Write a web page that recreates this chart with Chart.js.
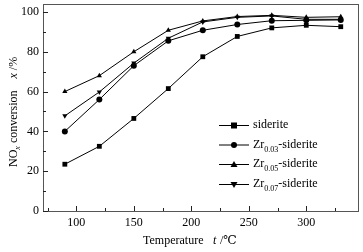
<!DOCTYPE html>
<html>
<head>
<meta charset="utf-8">
<script src="https://cdn.jsdelivr.net/npm/chart.js@4"></script>
<style>
  body { margin: 0; background: #fff; }
  #wrap { width: 363px; height: 252px; }
</style>
</head>
<body>
<div id="wrap"><canvas id="myChart" width="363" height="252"></canvas></div>
<script>
const temperaturas = [90, 120, 150, 180, 210, 240, 270, 300, 330];
const siderite = [23.5, 32.5, 46.5, 61.5, 77.5, 87.7, 92, 93.3, 92.6];
const zr003 = [40, 56, 73, 85.5, 90.8, 93.7, 95.6, 95.8, 96];
const zr005 = [60, 68, 80, 90.8, 95.5, 97.7, 98.3, 97.3, 97.6];
const zr007 = [47.8, 59.8, 74.3, 86.8, 95, 97.3, 98, 96.3, 96.3];
const nombres = [["siderite", ""], ["Zr", "0.03", "-siderite"], ["Zr", "0.05", "-siderite"], ["Zr", "0.07", "-siderite"]];
const marcas = ["rect", "circle", "triangle", "triangle"];
const rotaciones = [0, 0, 0, 180];
const ticksX = [100, 150, 200, 250, 300];
const ticksY = [0, 20, 40, 60, 80, 100];

const serif = "'Liberation Serif', 'DejaVu Serif', serif";

function puntos(arr) {
  return arr.map((v, i) => ({ x: temperaturas[i], y: v }));
}

function serie(label, datos, k) {
  return {
    label: label,
    data: puntos(datos),
    borderColor: "#000",
    backgroundColor: "#000",
    borderWidth: 1,
    pointStyle: marcas[k],
    rotation: rotaciones[k],
    pointRadius: marcas[k] == "rect" ? 3.4 : 3,
    pointBorderWidth: 0,
    tension: 0
  };
}

// ticks hacia adentro y bordes
const ejesPlugin = {
  id: "ejes",
  afterDraw(chart) {
    const ctx = chart.ctx;
    const a = chart.chartArea;
    const sx = chart.scales.x, sy = chart.scales.y;
    ctx.save();
    ctx.strokeStyle = "#555";
    ctx.lineWidth = 1;
    ctx.strokeRect(Math.round(a.left) + 0.5, Math.round(a.top) + 0.5, Math.round(a.right - a.left), Math.round(a.bottom - a.top));
    ctx.strokeStyle = "#222";
    ctx.beginPath();
    for (let t = 75; t <= 325; t += 25) {
      const px = Math.round(sx.getPixelForValue(t)) + 0.5;
      const len = (t % 50 == 0) ? 5 : 3;
      ctx.moveTo(px, a.bottom);
      ctx.lineTo(px, a.bottom - len);
    }
    for (let t = 0; t <= 100; t += 10) {
      const py = Math.round(sy.getPixelForValue(t)) + 0.5;
      const len = (t % 20 == 0) ? 5 : 3;
      ctx.moveTo(a.left, py);
      ctx.lineTo(a.left + len, py);
    }
    ctx.stroke();

    // etiquetas
    ctx.fillStyle = "#000";
    ctx.font = "12px " + serif;
    ctx.textAlign = "center";
    ctx.textBaseline = "middle";
    ticksX.forEach(t => ctx.fillText(String(t), sx.getPixelForValue(t), 223));
    ctx.textAlign = "right";
    ticksY.forEach(t => ctx.fillText(String(t), 39, sy.getPixelForValue(t)));

    // titulo eje x
    ctx.textAlign = "left";
    ctx.textBaseline = "alphabetic";
    ctx.font = "12px " + serif;
    ctx.fillText("Temperature", 143, 244);
    ctx.font = "italic 12px " + serif;
    ctx.fillText("t", 213, 244);
    ctx.font = "12px " + serif;
    ctx.fillText(" /\u2103", 217, 244);

    // titulo eje y
    ctx.save();
    ctx.translate(17, 167);
    ctx.rotate(-Math.PI / 2);
    let x = 0;
    ctx.font = "12px " + serif;
    ctx.fillText("NO", x, 0); x += ctx.measureText("NO").width;
    ctx.font = "italic 8px " + serif;
    ctx.fillText("x", x, 3); x += ctx.measureText("x").width + 1;
    ctx.font = "12px " + serif;
    ctx.fillText("conversion", x + 2, 0); x += ctx.measureText("conversion").width + 14;
    ctx.font = "italic 12px " + serif;
    ctx.fillText("x", x, 0); x += ctx.measureText("x").width;
    ctx.font = "12px " + serif;
    ctx.fillText(" /%", x, 0);
    ctx.restore();

    // leyenda
    const ys = [125, 144.5, 164, 184];
    ys.forEach((yy, k) => {
      ctx.strokeStyle = "#000";
      ctx.beginPath();
      ctx.moveTo(219, yy + 0.5);
      ctx.lineTo(249, yy + 0.5);
      ctx.stroke();
      dibujarMarca(ctx, marcas[k], rotaciones[k], 234, yy + 0.5);
      let lx = 253;
      const n = nombres[k];
      ctx.textBaseline = "middle";
      ctx.font = "12px " + serif;
      ctx.fillText(n[0], lx, yy); lx += ctx.measureText(n[0]).width;
      if (n.length > 2) {
        ctx.font = "8px " + serif;
        ctx.fillText(n[1], lx, yy + 5); lx += ctx.measureText(n[1]).width;
        ctx.font = "12px " + serif;
        ctx.fillText(n[2], lx, yy);
      }
    });
    ctx.restore();
  }
};

function dibujarMarca(ctx, tipo, rot, x, y) {
  ctx.fillStyle = "#000";
  ctx.beginPath();
  if (tipo == "rect") {
    ctx.rect(x - 3, y - 3, 6, 6);
  } else if (tipo == "circle") {
    ctx.arc(x, y, 3, 0, Math.PI * 2);
  } else {
    const s = rot == 180 ? -1 : 1;
    ctx.moveTo(x, y - 3.5 * s);
    ctx.lineTo(x + 3.5, y + 2.5 * s);
    ctx.lineTo(x - 3.5, y + 2.5 * s);
    ctx.closePath();
  }
  ctx.fill();
}

const ctx = document.getElementById("myChart").getContext("2d");
const myChart = new Chart(ctx, {
  type: "line",
  data: {
    datasets: [
      serie("siderite", siderite, 0),
      serie("Zr0.03-siderite", zr003, 1),
      serie("Zr0.05-siderite", zr005, 2),
      serie("Zr0.07-siderite", zr007, 3)
    ]
  },
  options: {
    responsive: false,
    animation: false,
    layout: { padding: { top: 4, right: 5, left: 0, bottom: 0 } },
    scales: {
      x: {
        type: "linear",
        min: 71,
        max: 345,
        grid: { display: false },
        border: { display: false },
        ticks: { display: false },
        afterFit: s => { s.height = 41; }
      },
      y: {
        min: 0,
        max: 104,
        grid: { display: false },
        border: { display: false },
        ticks: { display: false },
        afterFit: s => { s.width = 43; }
      }
    },
    plugins: {
      legend: { display: false },
      tooltip: { enabled: false }
    }
  },
  plugins: [ejesPlugin]
});
</script>
</body>
</html>
